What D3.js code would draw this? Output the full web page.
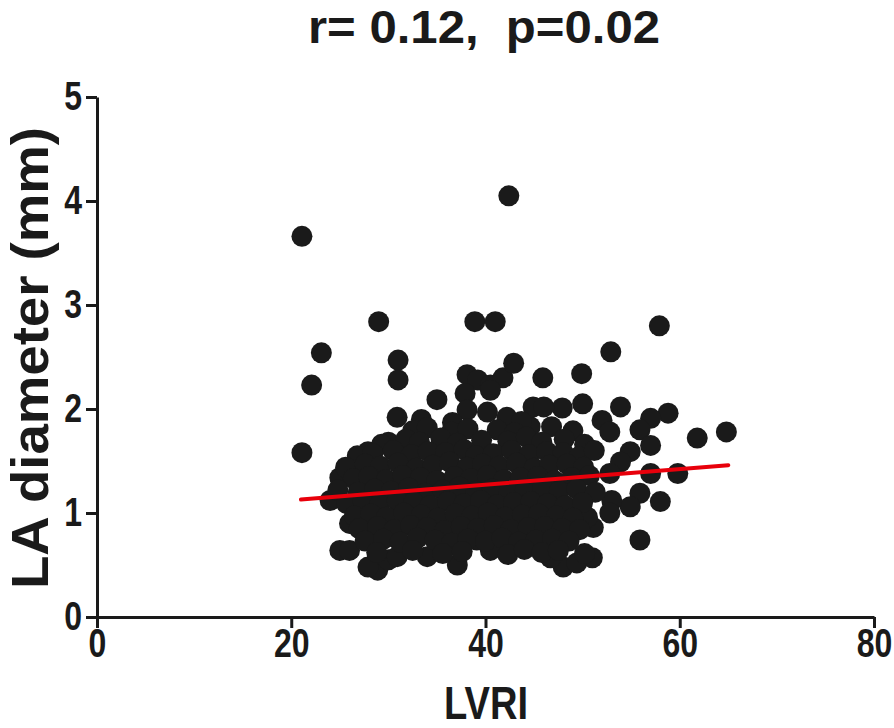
<!DOCTYPE html>
<html>
<head>
<meta charset="utf-8">
<script src="https://cdn.jsdelivr.net/npm/d3@7"></script>
<style>
  body { margin: 0; background: #fff; }
  text {
    font-family: "Liberation Sans", Arial, sans-serif;
    font-weight: bold;
    fill: #1a1a1a;
  }
</style>
</head>
<body>
<div id="chart"></div>
<script>
// values (LVRI vs LA diameter)
var lvri = [
  // outliers left / top
  21.1, 22.1, 23.1, 21.1, 29.0, 31.0, 31.0, 42.4, 38.9, 41.0,
  // upper chain
  38.1, 39.2, 40.5, 41.8, 42.9, 45.9, 35.0, 37.9, 40.5, 38.1, 40.2, 44.6, 44.9, 30.9,
  // right side, upper
  57.9, 52.9, 49.9, 53.9, 58.8, 50.0, 47.9, 46.0, 57.0, 52.0, 52.8, 55.9, 61.8, 64.8,
  // right side, lower
  57.0, 54.9, 53.9, 52.8, 57.0, 59.8, 58.0, 55.9, 54.9, 53.0, 52.8, 55.9, 51.1, 50.5,
  // bottom edge
  51.0, 48.0, 46.7, 49.4, 28.9, 30.0, 27.9, 25.0, 26.0, 37.1, 34.0, 40.5, 30.9, 39.1,
  // left edge
  24.0, 25.0, 26.0, 27.1, 27.9, 30.0,
  // cluster body, top to bottom
  33.4, 36.6, 42.2, 43.7,
  32.5, 34.0, 36.5, 38.2, 41.2, 43.0, 46.8, 49.0,
  29.3, 31.8, 33.2, 35.4, 37.1, 39.6, 42.3, 44.2, 45.8, 48.1, 50.2,
  26.8, 28.4, 30.5, 32.4, 34.1, 35.9, 37.8, 39.0, 40.8, 42.7, 44.5, 46.3, 48.0, 49.6, 51.2,
  25.6, 27.6, 29.2, 31.0, 32.9, 34.6, 36.3, 38.1, 39.7, 41.4, 43.2, 45.0, 46.6, 48.4, 50.1,
  26.4, 28.0, 29.8, 31.5, 33.3, 35.0, 36.8, 38.5, 40.2, 41.9, 43.6, 45.4, 47.1, 48.9, 50.7,
  24.8, 26.9, 28.6, 30.3, 32.1, 33.8, 35.6, 37.3, 39.0, 40.7, 42.4, 44.1, 45.9, 47.6, 49.4, 51.3,
  25.7, 27.4, 29.1, 30.9, 32.6, 34.3, 36.1, 37.8, 39.5, 41.2, 42.9, 44.7, 46.4, 48.2, 50.0,
  26.5, 28.2, 29.8, 31.6, 33.4, 35.1, 36.9, 38.6, 40.3, 42.0, 43.8, 45.5, 47.3, 49.0,
  27.0, 28.9, 30.6, 32.3, 34.0, 35.8, 37.5, 39.2, 40.9, 42.6, 44.4, 46.1, 47.9, 49.7,
  27.6, 29.5, 31.2, 33.0, 34.8, 36.5, 38.2, 40.0, 41.7, 43.4, 45.2, 46.9, 48.6,
  28.8, 32.5, 35.6, 37.6, 42.3, 44.0, 45.8, 47.5, 50.2
];

var laDiameter = [
  3.66, 2.23, 2.54, 1.58, 2.84, 2.47, 2.28, 4.05, 2.84, 2.84,
  2.33, 2.28, 2.23, 2.30, 2.44, 2.30, 2.09, 2.15, 2.18, 1.99, 1.97, 1.83, 2.02, 1.92,
  2.80, 2.55, 2.34, 2.02, 1.96, 2.05, 2.01, 2.02, 1.91, 1.89, 1.78, 1.80, 1.72, 1.78,
  1.65, 1.59, 1.49, 1.38, 1.38, 1.38, 1.11, 1.19, 1.06, 1.12, 1.00, 0.74, 0.86, 0.96,
  0.57, 0.48, 0.57, 0.52, 0.45, 0.55, 0.48, 0.64, 0.64, 0.50, 0.58, 0.64, 0.58, 0.74,
  1.12, 1.34, 0.90, 1.51, 1.59, 1.68,
  1.90, 1.87, 1.92, 1.88,
  1.79, 1.82, 1.78, 1.81, 1.80, 1.77, 1.83, 1.79,
  1.66, 1.71, 1.68, 1.72, 1.67, 1.70, 1.69, 1.73, 1.68, 1.71, 1.66,
  1.55, 1.57, 1.60, 1.56, 1.59, 1.58, 1.61, 1.55, 1.57, 1.60, 1.56, 1.59, 1.58, 1.54, 1.60,
  1.44, 1.47, 1.45, 1.48, 1.43, 1.46, 1.49, 1.44, 1.47, 1.45, 1.48, 1.43, 1.46, 1.47, 1.44,
  1.33, 1.35, 1.32, 1.36, 1.34, 1.31, 1.35, 1.33, 1.36, 1.32, 1.34, 1.35, 1.31, 1.34, 1.36,
  1.22, 1.20, 1.23, 1.21, 1.24, 1.19, 1.22, 1.25, 1.21, 1.23, 1.20, 1.22, 1.24, 1.21, 1.23, 1.20,
  1.09, 1.11, 1.08, 1.12, 1.10, 1.07, 1.11, 1.09, 1.12, 1.08, 1.10, 1.11, 1.09, 1.07, 1.10,
  0.97, 0.99, 0.96, 1.00, 0.98, 0.95, 0.99, 0.97, 1.00, 0.96, 0.98, 0.99, 0.97, 0.95,
  0.85, 0.87, 0.84, 0.88, 0.86, 0.83, 0.87, 0.85, 0.88, 0.84, 0.86, 0.87, 0.85, 0.84,
  0.73, 0.75, 0.72, 0.76, 0.74, 0.71, 0.75, 0.73, 0.76, 0.72, 0.74, 0.75, 0.73,
  0.62, 0.64, 0.61, 0.63, 0.60, 0.65, 0.62, 0.64, 0.61
];

// regression line ends
var fitX = [21, 65];
var fitY = [1.13, 1.46];

var xTicks = [0, 20, 40, 60, 80];
var yTicks = [0, 1, 2, 3, 4, 5];

var width = 894, height = 728;
var narrow = 0.8; // fake a condensed face, Arial Narrow isn't installed

var svg = d3.select("#chart").append("svg")
  .attr("width", width)
  .attr("height", height);

var x = d3.scaleLinear().domain([0, 80]).range([97, 874]);
var y = d3.scaleLinear().domain([0, 5]).range([617, 97]);

var points = lvri.map(function(d, i) { return { x: d, y: laDiameter[i] }; });

svg.append("g")
  .selectAll("circle")
  .data(points)
  .enter().append("circle")
    .attr("cx", function(d) { return x(d.x); })
    .attr("cy", function(d) { return y(d.y); })
    .attr("r", 10.5)
    .attr("fill", "#1a1a1a");

var line = d3.line()
  .x(function(d) { return x(d[0]); })
  .y(function(d) { return y(d[1]); });

svg.append("path")
  .datum(fitX.map(function(d, i) { return [d, fitY[i]]; }))
  .attr("d", line)
  .attr("fill", "none")
  .attr("stroke", "#e8000b")
  .attr("stroke-width", 4)
  .attr("stroke-linecap", "round");

var xAxis = svg.append("g")
  .attr("transform", "translate(0," + y(0) + ")")
  .call(d3.axisBottom(x).tickValues(xTicks).tickFormat(d3.format("d"))
    .tickSize(11).tickSizeOuter(0).tickPadding(1));

var yAxis = svg.append("g")
  .attr("transform", "translate(" + x(0) + ",0)")
  .call(d3.axisLeft(y).tickValues(yTicks).tickFormat(d3.format("d"))
    .tickSize(11).tickSizeOuter(0).tickPadding(3));

[xAxis, yAxis].forEach(function(g) {
  g.select(".domain").attr("stroke", "#1a1a1a").attr("stroke-width", 3);
  g.selectAll(".tick line").attr("stroke", "#1a1a1a").attr("stroke-width", 3);
  g.selectAll(".tick text")
    .attr("font-size", 40)
    .attr("font-family", null)
    .attr("fill", "#1a1a1a")
    .attr("transform", "scale(" + narrow + ",1)");
});
yAxis.selectAll(".tick text").attr("x", -15 / narrow);

svg.append("text")
  .attr("x", 484)
  .attr("y", 43)
  .attr("text-anchor", "middle")
  .attr("font-size", 46)
  .attr("textLength", 352)
  .attr("lengthAdjust", "spacingAndGlyphs")
  .style("white-space", "pre")
  .text("r= 0.12,  p=0.02");

svg.append("text")
  .attr("x", 486)
  .attr("y", 719)
  .attr("text-anchor", "middle")
  .attr("font-size", 46)
  .attr("textLength", 84)
  .attr("lengthAdjust", "spacingAndGlyphs")
  .text("LVRI");

svg.append("text")
  .attr("transform", "translate(48,358) rotate(-90)")
  .attr("text-anchor", "middle")
  .attr("font-size", 52)
  .attr("textLength", 462)
  .attr("lengthAdjust", "spacingAndGlyphs")
  .text("LA diameter (mm)");
</script>
</body>
</html>
